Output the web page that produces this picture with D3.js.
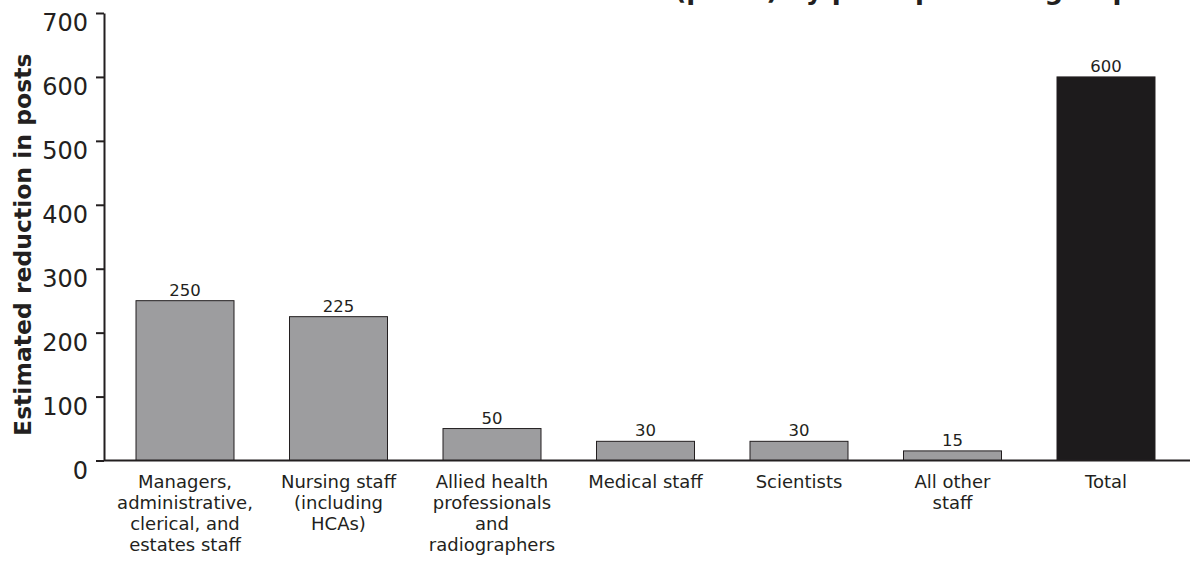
<!DOCTYPE html>
<html>
<head>
<meta charset="utf-8">
<script src="https://cdn.jsdelivr.net/npm/d3@7"></script>
<style>
  html, body { margin: 0; padding: 0; background: #fff; }
  svg { display: block; }
  text { font-family: "DejaVu Sans", sans-serif; fill: #231f20; }
</style>
</head>
<body>
<svg id="chart" width="1190" height="562"></svg>
<script>
// ---- data ----
const categories = [
  "Managers, administrative, clerical, and estates staff",
  "Nursing staff (including HCAs)",
  "Allied health professionals and radiographers",
  "Medical staff",
  "Scientists",
  "All other staff",
  "Total"
];
const categoryLines = [
  ["Managers,", "administrative,", "clerical, and", "estates staff"],
  ["Nursing staff", "(including", "HCAs)"],
  ["Allied health", "professionals", "and", "radiographers"],
  ["Medical staff"],
  ["Scientists"],
  ["All other", "staff"],
  ["Total"]
];
const values = [250, 225, 50, 30, 30, 15, 600];
const barKind = ["group", "group", "group", "group", "group", "group", "total"];
const yTicks = [0, 100, 200, 300, 400, 500, 600, 700];
const yTitle = "Estimated reduction in posts";
const chartTitle = "Estimated reduction in workforce (posts) by principal staff group";

// ---- layout ----
const W = 1190, H = 562;
const padL = 104, padR = 1187, baseY = 460.5, topY = 13;
const ink = "#231f20";
const fills = { group: "#9d9d9f", total: "#1d1b1c" };

const svg = d3.select("#chart");

const x = d3.scaleBand()
  .domain(categories)
  .range([padL, padR])
  .paddingInner(0.3616)
  .paddingOuter(0.2085);

const y = d3.scaleLinear().domain([0, 700]).range([baseY, topY]);

// title (cropped at top in the reference)
svg.append("text")
  .attr("x", 1131)
  .attr("y", -1)
  .attr("text-anchor", "end")
  .style("font-weight", "bold")
  .style("font-size", "26px")
  .text(chartTitle);

// bars
const data = categories.map((c, i) => ({ c, v: values[i], kind: barKind[i], lines: categoryLines[i] }));

svg.append("g").selectAll("rect")
  .data(data)
  .join("rect")
  .attr("x", d => x(d.c))
  .attr("y", d => y(d.v))
  .attr("width", x.bandwidth())
  .attr("height", d => y(0) - y(d.v))
  .attr("fill", d => fills[d.kind])
  .attr("stroke", ink)
  .attr("stroke-width", 1);

// value labels
svg.append("g").selectAll("text")
  .data(data)
  .join("text")
  .attr("x", d => x(d.c) + x.bandwidth() / 2)
  .attr("y", d => y(d.v) - 5)
  .attr("text-anchor", "middle")
  .style("font-size", "16.5px")
  .text(d => d.v);

// x baseline
svg.append("line")
  .attr("x1", padL).attr("x2", W)
  .attr("y1", y(0)).attr("y2", y(0))
  .attr("stroke", ink).attr("stroke-width", 2);

// category labels
const cat = svg.append("g").selectAll("text")
  .data(data)
  .join("text")
  .attr("text-anchor", "middle")
  .style("font-size", "18px");
cat.each(function(d) {
  const t = d3.select(this);
  d.lines.forEach((ln, i) => {
    t.append("tspan")
      .attr("x", x(d.c) + x.bandwidth() / 2)
      .attr("y", 488 + i * 21)
      .text(ln);
  });
});

// y axis
const yAxis = svg.append("g")
  .attr("transform", `translate(${padL},0)`)
  .call(d3.axisLeft(y).tickValues(yTicks).tickSize(8).tickSizeOuter(0).tickPadding(8));
yAxis.select(".domain").attr("stroke", ink).attr("stroke-width", 2);
yAxis.selectAll(".tick line").attr("stroke", ink).attr("stroke-width", 2);
yAxis.selectAll(".tick text")
  .attr("dy", "0.73em")
  .attr("fill", ink)
  .style("font-family", "DejaVu Sans, sans-serif")
  .style("font-size", "24px");

// y axis title
svg.append("text")
  .attr("transform", `translate(31,${(topY + baseY) / 2 + 8}) rotate(-90)`)
  .attr("text-anchor", "middle")
  .style("font-weight", "bold")
  .style("font-size", "23.5px")
  .text(yTitle);
</script>
</body>
</html>
